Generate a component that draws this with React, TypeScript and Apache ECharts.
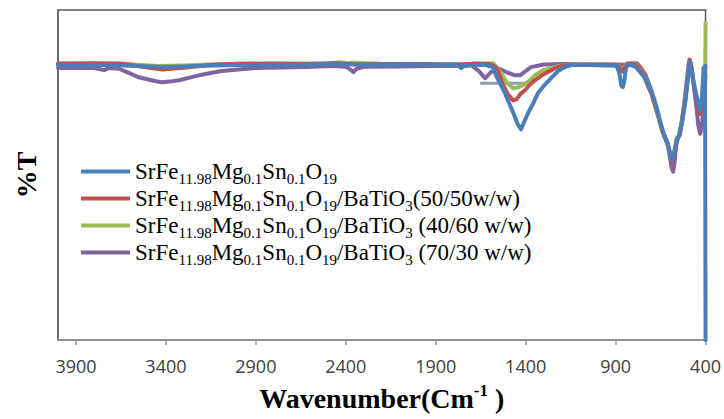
import React, { useEffect, useRef } from 'react';
import * as echarts from 'echarts';

const xTicks = [3900, 3400, 2900, 2400, 1900, 1400, 900, 400];

const seriesNames = [
  'SrFe11.98Mg0.1Sn0.1O19',
  'SrFe11.98Mg0.1Sn0.1O19/BaTiO3(50/50w/w)',
  'SrFe11.98Mg0.1Sn0.1O19/BaTiO3 (40/60 w/w)',
  'SrFe11.98Mg0.1Sn0.1O19/BaTiO3 (70/30 w/w)',
];

const legendRich = [
  '{n|SrFe}{s|11.98}{n|Mg}{s|0.1}{n|Sn}{s|0.1}{n|O}{s|19}',
  '{n|SrFe}{s|11.98}{n|Mg}{s|0.1}{n|Sn}{s|0.1}{n|O}{s|19}{n|/BaTiO}{s|3}{n|(50/50w/w)}',
  '{n|SrFe}{s|11.98}{n|Mg}{s|0.1}{n|Sn}{s|0.1}{n|O}{s|19}{n|/BaTiO}{s|3}{n| (40/60 w/w)}',
  '{n|SrFe}{s|11.98}{n|Mg}{s|0.1}{n|Sn}{s|0.1}{n|O}{s|19}{n|/BaTiO}{s|3}{n| (70/30 w/w)}',
];

const colors = ['#4A7EBB', '#C0504D', '#9BBB59', '#8064A2'];

// [wavenumber (cm-1), %T]
const blueData = [
  [4000, 83.3], [3900, 83.2], [3800, 83.3], [3700, 83.3], [3600, 83.1], [3500, 82.9], [3420, 82.7],
  [3300, 82.9], [3200, 83.1], [3000, 83.3], [2800, 83.4], [2600, 83.4], [2480, 83.7], [2400, 83.6],
  [2300, 83.4], [2100, 83.5], [1900, 83.5], [1800, 83.4], [1770, 83.2], [1759, 82.4], [1745, 83.0],
  [1700, 83.3], [1620, 83.3], [1580, 82.6], [1565, 80.2], [1540, 77.5], [1515, 74.8], [1490, 71.5],
  [1470, 69.0], [1445, 65.5], [1426, 63.8], [1405, 66.5], [1387, 68.7], [1360, 71.5], [1332, 74.8],
  [1300, 77.0], [1260, 79.3], [1220, 81.5], [1182, 82.7], [1150, 83.3], [1050, 83.3], [950, 83.2],
  [895, 83.1], [880, 81.0], [868, 77.0], [860, 76.6], [852, 78.5], [842, 82.5], [830, 83.5],
  [816, 83.3], [790, 82.8], [760, 80.9], [738, 79.6], [700, 75.1], [683, 72.6], [665, 69.0],
  [650, 65.7], [627, 61.4], [611, 59.6], [594, 55.3], [583, 54.4], [572, 57.5], [560, 61.0],
  [545, 62.0], [530, 66.0], [520, 69.6], [511, 72.6], [500, 78.5], [489, 84.2], [478, 82.0],
  [465, 77.5], [450, 73.8], [433, 69.6], [420, 73.5], [411, 82.5], [403, 83.0], [400, 0],
];

const redData = [
  [4000, 83.8], [3800, 83.9], [3650, 83.8], [3500, 82.6], [3420, 82.0], [3300, 82.5], [3150, 83.3],
  [3000, 83.7], [2800, 83.8], [2600, 83.6], [2450, 83.9], [2350, 83.5], [2200, 83.6], [2000, 83.6],
  [1850, 83.5], [1750, 83.5], [1680, 83.8], [1600, 83.6], [1570, 82.8], [1554, 81.8], [1530, 77.8],
  [1500, 74.5], [1470, 72.6], [1450, 73.0], [1430, 74.5], [1404, 75.7], [1380, 77.2], [1349, 78.7],
  [1310, 80.2], [1276, 81.2], [1230, 82.5], [1190, 83.2], [1100, 83.4], [950, 83.4], [890, 83.3],
  [875, 82.0], [862, 81.5], [850, 82.5], [835, 83.7], [810, 83.8], [780, 83.0], [750, 81.0],
  [720, 77.0], [700, 74.5], [680, 71.0], [660, 67.5], [640, 63.5], [620, 61.0], [605, 58.5],
  [590, 55.0], [582, 53.8], [572, 56.5], [560, 60.5], [545, 62.0], [530, 66.5], [515, 72.0],
  [500, 78.5], [489, 85.0], [478, 82.5], [465, 77.0], [450, 72.5], [433, 68.5], [420, 72.0],
  [410, 79.0], [402, 82.0], [400, 83.0],
];

const greenData = [
  [4000, 83.6], [3800, 83.7], [3600, 83.6], [3450, 83.0], [3300, 83.2], [3100, 83.6], [2900, 83.7],
  [2700, 83.7], [2500, 83.9], [2430, 84.2], [2390, 83.9], [2360, 84.0], [2200, 83.7], [2000, 83.6],
  [1850, 83.5], [1700, 83.6], [1620, 83.8], [1581, 83.9], [1560, 82.5], [1537, 80.9], [1505, 78.0],
  [1470, 76.3], [1440, 76.6], [1415, 77.2], [1380, 78.5], [1349, 80.2], [1300, 81.8], [1260, 82.4],
  [1200, 83.2], [1100, 83.5], [950, 83.5], [890, 83.4], [875, 82.5], [862, 81.2], [850, 82.8],
  [835, 83.8], [810, 83.9], [780, 83.2], [750, 81.2], [720, 77.5], [700, 74.5], [680, 71.0],
  [660, 67.0], [640, 63.0], [620, 60.5], [605, 58.0], [590, 55.5], [582, 55.0], [572, 57.5],
  [560, 61.0], [545, 62.5], [530, 67.0], [515, 72.5], [500, 79.0], [489, 84.5], [478, 82.5],
  [465, 78.0], [450, 74.0], [433, 70.0], [420, 72.5], [410, 77.0], [402, 80.0], [400, 96.0],
];

const purpleData = [
  [4000, 82.4], [3900, 82.5], [3800, 82.4], [3744, 81.8], [3720, 82.4], [3661, 82.2], [3600, 80.8],
  [3550, 79.6], [3456, 78.4], [3423, 78.1], [3380, 78.3], [3328, 78.7], [3217, 80.2], [3090, 81.5],
  [2901, 82.4], [2624, 82.7], [2480, 83.0], [2400, 82.8], [2375, 82.0], [2358, 81.2], [2340, 82.2],
  [2300, 82.8], [2100, 82.9], [1900, 83.0], [1760, 83.0], [1703, 83.3], [1660, 81.5], [1626, 79.3],
  [1605, 80.5], [1592, 81.2], [1554, 82.4], [1509, 81.2], [1459, 80.2], [1430, 80.2], [1415, 80.9],
  [1371, 82.7], [1300, 83.5], [1200, 83.6], [1000, 83.5], [900, 83.5], [850, 83.4], [800, 83.9],
  [780, 83.8], [760, 82.5], [735, 80.5], [710, 77.0], [690, 73.5], [670, 69.0], [650, 65.5],
  [630, 62.0], [612, 59.5], [598, 55.5], [588, 52.0], [580, 51.0], [572, 54.0], [562, 59.5],
  [548, 62.0], [533, 66.0], [518, 72.0], [505, 78.5], [492, 84.5], [482, 84.0], [470, 79.0],
  [455, 72.5], [440, 65.0], [430, 62.5], [420, 65.0], [410, 72.0], [403, 78.0], [400, 80.0],
];

const strayBarData = [[1653, 77.8], [1404, 77.8]];

export default function App() {
  const ref = useRef<HTMLDivElement>(null);
  useEffect(() => {
    const chart = echarts.init(ref.current!, null, { renderer: 'svg' });
    const serif = 'Liberation Serif';
    const lineSeries = (name: string, data: number[][], color: string, z: number) => ({
      name,
      type: 'line',
      data,
      showSymbol: false,
      silent: true,
      z,
      color,
      lineStyle: { width: 4, color, cap: 'round', join: 'round' },
    });
    const option: any = {
      animation: false,
      grid: {
        left: 58, right: 15, top: 10, bottom: 79,
        show: true, borderColor: '#555', borderWidth: 1.5, backgroundColor: 'transparent',
      },
      legend: {
        data: seriesNames,
        orient: 'vertical',
        left: 76,
        top: 155,
        icon: 'rect',
        itemWidth: 49,
        itemHeight: 4,
        itemGap: 1,
        selectedMode: false,
        formatter: (name: string) => legendRich[seriesNames.indexOf(name)],
        textStyle: {
          rich: {
            n: { fontFamily: serif, fontSize: 23, color: '#000', lineHeight: 22 },
            s: { fontFamily: serif, fontSize: 15, color: '#000', height: 8, lineHeight: 8, verticalAlign: 'bottom' },
          },
        },
      },
      xAxis: {
        type: 'value',
        min: 400,
        max: 4000,
        inverse: true,
        splitLine: { show: false },
        axisLine: { show: true, onZero: false, lineStyle: { color: '#999', width: 1.5 } },
        axisTick: { show: true, length: 5, customValues: xTicks, lineStyle: { color: '#999', width: 1.5 } },
        axisLabel: {
          customValues: xTicks,
          formatter: (v: number) => String(v),
          margin: 17,
          fontFamily: 'Open Sans',
          fontSize: 18,
          color: '#404040',
        },
        name: '{t|Wavenumber(Cm}{u|-1}{t| )}',
        nameLocation: 'middle',
        nameGap: 42,
        nameTextStyle: {
          rich: {
            t: { fontFamily: serif, fontSize: 28, fontWeight: 'bold', color: '#000', lineHeight: 32 },
            u: { fontFamily: serif, fontSize: 17, fontWeight: 'bold', color: '#000', lineHeight: 20, verticalAlign: 'top' },
          },
        },
      },
      yAxis: {
        type: 'value',
        min: 0,
        max: 100,
        splitLine: { show: false },
        axisLine: { show: true, lineStyle: { color: '#666', width: 1.5 } },
        axisTick: { show: false },
        axisLabel: { show: false },
        name: '%T',
        nameLocation: 'middle',
        nameGap: 18,
        nameTextStyle: { fontFamily: serif, fontSize: 28, fontWeight: 'bold', color: '#000' },
      },
      series: [
        {
          type: 'line', data: strayBarData, showSymbol: false, silent: true, z: 1,
          lineStyle: { width: 3, color: '#8C9DB3' },
        },
        lineSeries(seriesNames[3], purpleData, colors[3], 2),
        lineSeries(seriesNames[2], greenData, colors[2], 3),
        lineSeries(seriesNames[1], redData, colors[1], 4),
        lineSeries(seriesNames[0], blueData, colors[0], 5),
      ],
    };
    chart.setOption(option);
    return () => chart.dispose();
  }, []);
  return <div ref={ref} style={{ position: 'absolute', left: 0, top: 0, width: 724, height: 419 }} />;
}
